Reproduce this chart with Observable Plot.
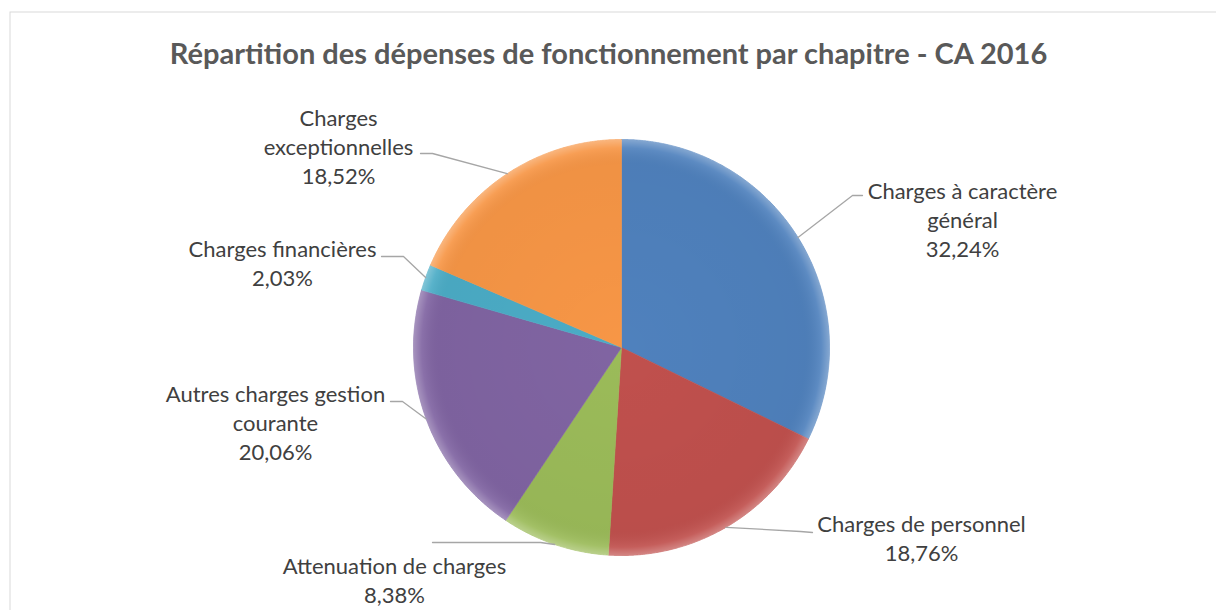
<!DOCTYPE html>
<html>
<head>
<meta charset="utf-8">
<script src="https://cdn.jsdelivr.net/npm/d3@7"></script>
<script src="https://cdn.jsdelivr.net/npm/@observablehq/plot@0.6"></script>
<style>
  html, body { margin: 0; padding: 0; background: #ffffff; overflow: hidden; }
  #chart svg { display: block; }
</style>
</head>
<body>
<div id="chart"></div>
<script>
// ---- Data ----
const title = "Répartition des dépenses de fonctionnement par chapitre - CA 2016";
const categories = [
  "Charges à caractère général",
  "Charges de personnel",
  "Attenuation de charges",
  "Autres charges gestion courante",
  "Charges financières",
  "Charges exceptionnelles"
];
const labelText = [
  "Charges à caractère\ngénéral",
  "Charges de personnel",
  "Attenuation de charges",
  "Autres charges gestion\ncourante",
  "Charges financières",
  "Charges\nexceptionnelles"
];
const values = [32.24, 18.76, 8.38, 20.06, 2.03, 18.52];
const colors = ["#4F81BD", "#C0504D", "#9BBB59", "#8064A2", "#4BACC6", "#F79646"];

// ---- Layout (pixels) ----
const W = 1216, H = 610;
const cx = 621, cy = 347, R = 208;
const labelPos = [ // label block centers
  [962, 218], [921, 537], [394, 579], [275, 421], [282, 262], [338, 145]
];
const leaderElbow = [
  [852, 195], [800, 531], [540, 542], [402, 401], [403, 256], [432, 153]
];
const leaderEnd = [
  [862, 195], [812, 532], [432, 542], [390, 401], [381, 256], [420, 153]
];

// ---- Derived geometry ----
const frFmt = d3.formatLocale({decimal: ",", thousands: " ", grouping: [3], currency: ["", " €"]}).format(".2f");
const arcs = d3.pie().sort(null).value(d => d)(values);

const slicePts = [];
arcs.forEach((a, i) => {
  const k = categories[i];
  slicePts.push({k, x: cx, y: cy});
  const n = Math.max(4, Math.ceil((a.endAngle - a.startAngle) / 0.005));
  for (let j = 0; j <= n; j++) {
    const t = a.startAngle + (a.endAngle - a.startAngle) * j / n;
    slicePts.push({k, x: cx + R * Math.sin(t), y: cy - R * Math.cos(t)});
  }
  slicePts.push({k, x: cx, y: cy});
});

const leaderPts = [];
arcs.forEach((a, i) => {
  const k = categories[i];
  const t = (a.startAngle + a.endAngle) / 2;
  leaderPts.push({k, x: cx + R * Math.sin(t), y: cy - R * Math.cos(t)});
  leaderPts.push({k, x: leaderElbow[i][0], y: leaderElbow[i][1]});
  leaderPts.push({k, x: leaderEnd[i][0], y: leaderEnd[i][1]});
});

const labels = categories.map((k, i) => ({
  k,
  x: labelPos[i][0],
  y: labelPos[i][1],
  text: labelText[i] + "\n" + frFmt(values[i]) + "%"
}));

const chart = Plot.plot({
  width: W,
  height: H,
  margin: 0,
  x: {domain: [0, W], range: [0, W], axis: null},
  y: {domain: [0, H], range: [0, H], axis: null},
  color: {domain: categories, range: colors},
  style: {background: "#ffffff", overflow: "hidden"},
  marks: [
    Plot.frame({stroke: "#d9d9d9", strokeWidth: 1, insetLeft: 9.5, insetTop: 11.5, insetRight: -5, insetBottom: -5}),
    Plot.line(slicePts, {x: "x", y: "y", z: "k", fill: "k", stroke: "k", strokeWidth: 0.6, curve: "linear"}),
    Plot.dot([0], {x: () => cx, y: () => cy, r: R, fill: "url(#pieShade)", stroke: "none"}),
    Plot.line(leaderPts, {x: "x", y: "y", z: "k", stroke: "#a6a6a6", strokeWidth: 1.3}),
    Plot.text(labels, {
      x: "x", y: "y", text: "text",
      fontSize: 22, lineHeight: 29 / 22, lineAnchor: "middle", textAnchor: "middle",
      fill: "#404040", fontFamily: "Lato, 'Open Sans', sans-serif"
    }),
    Plot.text([title], {
      frameAnchor: "top", dy: 43, lineAnchor: "top",
      fontSize: 29, fontWeight: "bold", fill: "#595959",
      fontFamily: "Lato, 'Open Sans', sans-serif"
    })
  ]
});

// gradient definition for subtle rim shading
const svg = d3.select(chart);
const defs = svg.insert("defs", ":first-child");
const g = defs.append("radialGradient").attr("id", "pieShade").attr("cx", "50%").attr("cy", "50%").attr("r", "50%");
g.append("stop").attr("offset", "0%").attr("stop-color", "#000").attr("stop-opacity", 0);
g.append("stop").attr("offset", "88%").attr("stop-color", "#000").attr("stop-opacity", 0.03);
g.append("stop").attr("offset", "96%").attr("stop-color", "#fff").attr("stop-opacity", 0.08);
g.append("stop").attr("offset", "100%").attr("stop-color", "#fff").attr("stop-opacity", 0.3);

document.getElementById("chart").appendChild(chart);
</script>
</body>
</html>
